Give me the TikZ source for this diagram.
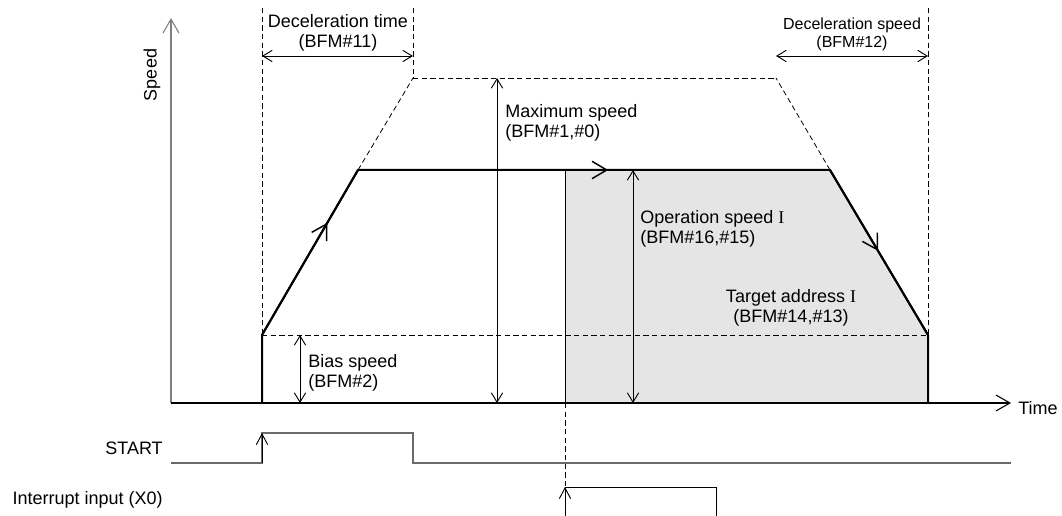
\documentclass[tikz,border=0pt]{standalone}
\usepackage{fontspec}
\setmainfont{Liberation Sans}
\newfontfamily\romanI{Liberation Serif}
\usepackage{xcolor}
\definecolor{cLine}{HTML}{000000}
\definecolor{cAxis}{HTML}{808080}
\definecolor{cShade}{HTML}{E5E5E5}
\definecolor{cSignal}{HTML}{6A6A6A}
\usetikzlibrary{arrows.meta,decorations.markings}
\tikzset{
  label-text/.style={font=\fontsize{13.5}{15}\selectfont,inner sep=0pt,align=left},
  label-small/.style={font=\fontsize{12}{13.5}\selectfont,inner sep=0pt,align=center},
  profile/.style={line width=1.5pt,draw=cLine,line join=miter},
  guide/.style={dash pattern=on 4pt off 2.5pt,line width=0.6pt,draw=cLine},
  thin-line/.style={line width=0.7pt,draw=cLine},
  dim-arrow/.style={{Straight Barb[length=7pt,width=8.5pt]}-{Straight Barb[length=7pt,width=8.5pt]},
    line width=0.7pt},
  axis-arrow/.style={-{Straight Barb[length=10.5pt,width=12pt]},line width=0.8pt},
  edge-arrow/.style={-{Straight Barb[length=8pt,width=8.5pt]},line width=0.7pt},
  flow-mark/.style={postaction={decorate},decoration={markings,
    mark=at position #1 with {\arrow[line width=1.1pt]{Straight Barb[length=11pt,width=13pt]}}}},
}
\begin{document}
\begin{tikzpicture}[x=0.75pt,y=-0.75pt]
  \useasboundingbox (0,0) rectangle (1062,516);

  % key points of the speed profile
  \coordinate (axisO)     at (171,403);
  \coordinate (speedTip)  at (171,18);
  \coordinate (timeTip)   at (1011,403);
  \coordinate (baseL)     at (262,403);
  \coordinate (rampStart) at (262,335);
  \coordinate (rampTop)   at (358,170);
  \coordinate (decelTop)  at (830,170);
  \coordinate (rampEnd)   at (928,335);
  \coordinate (baseR)     at (928,403);
  \coordinate (maxL)      at (413,78);
  \coordinate (maxR)      at (776,78);
  \coordinate (irqTop)    at (565,170);
  \coordinate (irqBase)   at (565,403);
  \coordinate (irqHigh)   at (565,487);

  % shaded travel after interrupt
  \fill[cShade] (irqTop) -- (decelTop) -- (rampEnd) -- (baseR) -- (irqBase) -- cycle;
  \draw[thin-line] (irqTop) -- (irqBase);
  \draw[guide] (irqBase) -- (irqHigh);

  % guide lines
  \draw[guide] (262,8) -- (rampStart);
  \draw[guide] (413,8) -- (maxL);
  \draw[guide] (928,8) -- (rampEnd);
  \draw[guide] (rampStart) -- (rampEnd);
  \draw[guide] (maxL) -- (maxR);
  \draw[guide] (rampTop) -- (maxL);
  \draw[guide] (decelTop) -- (maxR);

  % axes
  \draw[axis-arrow,draw=cAxis] (axisO) -- (speedTip);
  \draw[axis-arrow] (axisO) -- (timeTip);
  \node[label-text,rotate=90] (lblSpeed) at (152,75) {Speed};
  \node[label-text,anchor=west] (lblTime) at (1018,408) {Time};

  % speed profile
  \draw[profile] (baseL) -- (rampStart) -- (rampTop) -- (decelTop) -- (rampEnd) -- (baseR);
  \draw[profile,flow-mark=0.68] (rampStart) -- (rampTop);
  \draw[profile,flow-mark=0.53] (rampTop) -- (decelTop);
  \draw[profile,flow-mark=0.49] (decelTop) -- (rampEnd);

  % dimensions
  \draw[dim-arrow] (262,56) coordinate (dtL) -- (413,56) coordinate (dtR);
  \node[label-text,align=center] (lblDecTime) at (338,33) {Deceleration time\\(BFM\#11)};
  \draw[dim-arrow] (776,56) coordinate (dsL) -- (928,56) coordinate (dsR);
  \node[label-small] (lblDecSpeed) at (852,34) {Deceleration speed\\(BFM\#12)};
  \draw[dim-arrow] (497,78) coordinate (msT) -- (497,403) coordinate (msB);
  \node[label-text,anchor=west] (lblMax) at (505,123) {Maximum speed\\(BFM\#1,\#0)};
  \draw[dim-arrow] (633,170) coordinate (osT) -- (633,403) coordinate (osB);
  \node[label-text,anchor=west] (lblOper) at (640,229) {Operation speed {\romanI I}\\(BFM\#16,\#15)};
  \node[label-text,align=center] (lblTarget) at (791,308) {Target address {\romanI I}\\(BFM\#14,\#13)};
  \draw[dim-arrow] (300,335) coordinate (bsT) -- (300,403) coordinate (bsB);
  \node[label-text,anchor=west] (lblBias) at (308,373) {Bias speed\\(BFM\#2)};

  % START signal
  \coordinate (stLow)  at (262,463);
  \coordinate (stHigh) at (262,433);
  \draw[line width=0.8pt,draw=cSignal] (171,463) -- (stLow) -- (stHigh) -- (413,433)
    -- (413,463) -- (1011,463);
  \draw[edge-arrow,draw=cLine] (stLow) -- (stHigh);
  \node[label-text,anchor=east] (lblStart) at (163,448) {START};

  % interrupt signal
  \coordinate (irqLow) at (565,516);
  \draw[thin-line] (irqLow) -- (irqHigh) -- (716,487) -- (716,516);
  \draw[edge-arrow] (irqLow) -- (irqHigh);
  \node[label-text,anchor=east] (lblIrq) at (163,500) {Interrupt input (X0)};
\end{tikzpicture}
\end{document}
